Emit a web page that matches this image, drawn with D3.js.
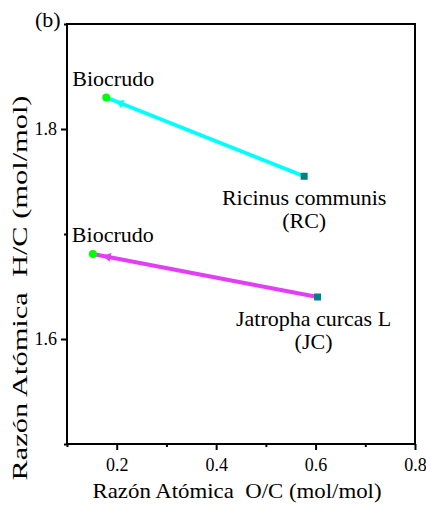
<!DOCTYPE html>
<html>
<head>
<meta charset="utf-8">
<script src="https://cdn.jsdelivr.net/npm/d3@7"></script>
<style>
  html, body { margin: 0; padding: 0; background: #fff; }
  svg { display: block; }
</style>
</head>
<body>
<script>
// Van Krevelen style plot: feedstock -> biocrude atomic ratios
const sampleNames = ["Ricinus communis", "Jatropha curcas L"];
const sampleCodes = ["(RC)", "(JC)"];
const feedOC = [0.577, 0.604];
const feedHC = [1.755, 1.640];
const biocrudeOC = [0.179, 0.152];
const biocrudeHC = [1.830, 1.681];
const biocrudeLabel = "Biocrudo";
const arrowColors = ["#00ffff", "#e23ff5"];
const xMajorTicks = [0.2, 0.4, 0.6, 0.8];
const xMinorTicks = [0.1, 0.3, 0.5, 0.7];
const yMajorTicks = [1.6, 1.8];
const yMinorTicks = [1.5, 1.7, 1.9];
const xTitle = "Razón Atómica\u00a0\u00a0O/C (mol/mol)";
const yTitle = "Razón Atómica\u00a0\u00a0H/C (mol/mol)";
const panelTag = "(b)";

// caption offsets (px) relative to their points
const biocrudeLabelDx = [-34, -21];
const feedLabelDx = [0, -4];

const W = 426, H = 506;
const margin = { left: 67, top: 24, right: 11, bottom: 62 };
const iw = W - margin.left - margin.right;
const ih = H - margin.top - margin.bottom;

const svg = d3.select("body").append("svg").attr("width", W).attr("height", H);

// pick the first Times-like face that is actually installed
function pickSerif() {
  const probe = svg.append("text").attr("font-size", 40).text("Biocrudo mmWWiil 0.123");
  const widthOf = f => { probe.attr("font-family", f); return probe.node().getComputedTextLength(); };
  const baseMono = widthOf("monospace");
  const candidates = ["Liberation Serif", "Tinos", "Times New Roman", "Nimbus Roman", "Nimbus Roman No9 L",
                      "FreeSerif", "DejaVu Serif", "Noto Serif", "Source Serif Pro", "serif"];
  let found = null;
  for (const c of candidates) {
    if (widthOf(`"${c}", monospace`) !== baseMono) { found = c; break; }
  }
  probe.remove();
  return found ? `"${found}", serif` : "serif";
}
const fontFamily = pickSerif();
svg.attr("font-family", fontFamily);

const g = svg.append("g").attr("transform", `translate(${margin.left},${margin.top})`);

const x = d3.scaleLinear().domain([0.1, 0.8]).range([0, iw]);
const y = d3.scaleLinear().domain([1.5, 1.9]).range([ih, 0]);

// axes
g.append("g").attr("transform", `translate(0,${ih})`)
  .call(d3.axisBottom(x).tickValues(xMajorTicks).tickFormat(d3.format(".1f")).tickSize(6).tickPadding(8));
g.append("g").attr("transform", `translate(0,${ih})`)
  .call(d3.axisBottom(x).tickValues(xMinorTicks).tickFormat("").tickSize(3));
g.append("g")
  .call(d3.axisLeft(y).tickValues(yMajorTicks).tickFormat(d3.format(".1f")).tickSize(6).tickPadding(4));
g.append("g").call(d3.axisLeft(y).tickValues(yMinorTicks).tickFormat("").tickSize(3));

g.selectAll(".domain").remove();
g.selectAll("g").attr("font-family", fontFamily);
g.selectAll(".tick line").attr("stroke", "#000").attr("stroke-width", 2);
g.selectAll(".tick text").attr("font-size", 18).attr("fill", "#000");

// frame
g.append("rect").attr("x", 0).attr("y", 0).attr("width", iw).attr("height", ih)
  .attr("fill", "none").attr("stroke", "#000").attr("stroke-width", 2);

// axis titles
svg.append("text")
  .attr("x", 237).attr("y", H - 8)
  .attr("text-anchor", "middle").attr("font-size", 22)
  .attr("textLength", 289).attr("lengthAdjust", "spacingAndGlyphs")
  .text(xTitle);
svg.append("text")
  .attr("transform", `translate(27,288) rotate(-90)`)
  .attr("text-anchor", "middle").attr("font-size", 22)
  .attr("textLength", 385).attr("lengthAdjust", "spacingAndGlyphs")
  .text(yTitle);
svg.append("text").attr("x", 35).attr("y", 27).attr("font-size", 22).text(panelTag);

const idx = d3.range(sampleNames.length);

// conversion lines (feedstock -> biocrude)
g.selectAll("line.conv").data(idx).join("line").attr("class", "conv")
  .attr("x1", i => x(feedOC[i])).attr("y1", i => y(feedHC[i]))
  .attr("x2", i => x(biocrudeOC[i])).attr("y2", i => y(biocrudeHC[i]))
  .attr("stroke", i => arrowColors[i]).attr("stroke-width", 4);

// small arrowheads close to the biocrude end
g.selectAll("path.head").data(idx).join("path").attr("class", "head")
  .attr("d", i => {
    const x1 = x(feedOC[i]), y1 = y(feedHC[i]);
    const x2 = x(biocrudeOC[i]), y2 = y(biocrudeHC[i]);
    const L = Math.hypot(x2 - x1, y2 - y1);
    const ux = (x2 - x1) / L, uy = (y2 - y1) / L;
    const tipX = x2 - ux * 10, tipY = y2 - uy * 10;
    const bx = tipX - ux * 8, by = tipY - uy * 8;
    const px = -uy * 4.5, py = ux * 4.5;
    return `M${tipX},${tipY}L${bx + px},${by + py}L${bx - px},${by - py}Z`;
  })
  .attr("fill", i => arrowColors[i]);

// feedstock squares
g.selectAll("rect.feed").data(idx).join("rect").attr("class", "feed")
  .attr("x", i => x(feedOC[i]) - 3.5).attr("y", i => y(feedHC[i]) - 3.5)
  .attr("width", 7).attr("height", 7).attr("fill", "#008080");

// biocrude dots
g.selectAll("circle.bio").data(idx).join("circle").attr("class", "bio")
  .attr("cx", i => x(biocrudeOC[i])).attr("cy", i => y(biocrudeHC[i]))
  .attr("r", 4).attr("fill", "#00ff00");

// labels
g.selectAll("text.bioLab").data(idx).join("text").attr("class", "bioLab")
  .attr("x", i => x(biocrudeOC[i]) + biocrudeLabelDx[i])
  .attr("y", i => y(biocrudeHC[i]) - 12)
  .attr("font-size", 22).text(biocrudeLabel);

const feedLab = g.selectAll("text.feedLab").data(idx).join("text").attr("class", "feedLab")
  .attr("text-anchor", "middle").attr("font-size", 22);
feedLab.append("tspan")
  .attr("x", i => x(feedOC[i]) + feedLabelDx[i]).attr("y", i => y(feedHC[i]) + 29)
  .text(i => sampleNames[i]);
feedLab.append("tspan")
  .attr("x", i => x(feedOC[i]) + feedLabelDx[i]).attr("y", i => y(feedHC[i]) + 52)
  .text(i => sampleCodes[i]);
</script>
</body>
</html>
